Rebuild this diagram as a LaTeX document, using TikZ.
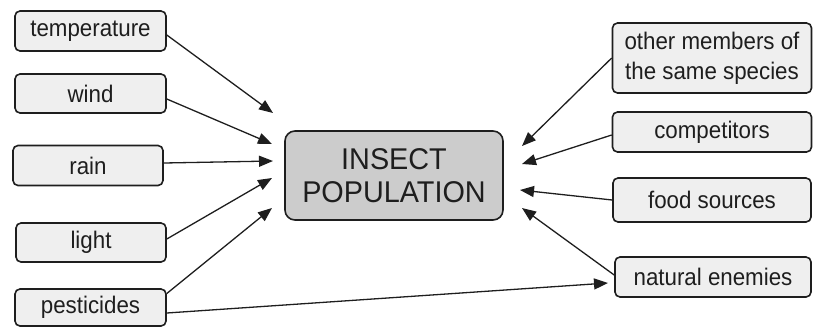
\documentclass[tikz,border=0pt]{standalone}
\usepackage{fontspec}
\setmainfont{Liberation Sans}
\newfontfamily\labfont{Liberation Sans}[FakeStretch=0.93]
\newfontfamily\hubfont{Liberation Sans}[FakeStretch=0.96]
\usetikzlibrary{arrows.meta}
\definecolor{boxfill}{HTML}{EFEFEF}
\definecolor{centerfill}{HTML}{CCCCCC}
\definecolor{ink}{HTML}{1E1E1E}
\tikzset{
  factor/.style={draw=ink, line width=1.6pt, rounded corners=5pt, fill=boxfill,
    text=ink, font=\labfont\fontsize{24}{30}\selectfont, align=center, inner sep=0pt},
  hub/.style={draw=ink, line width=1.6pt, rounded corners=10pt, fill=centerfill,
    text=ink, font=\hubfont\fontsize{30}{33}\selectfont, align=center, inner sep=0pt,
    minimum width=218pt, minimum height=89pt},
  link/.style={draw=ink, line width=1.3pt, -{Triangle[length=14pt,width=11pt]}}
}
\begin{document}
\begin{tikzpicture}[x=1pt,y=-1pt]
\useasboundingbox (0,0) rectangle (813,327);
% left factors
\node[factor, minimum width=151pt, minimum height=40pt] (temp) at (90.5,31) {temperature};
\node[factor, minimum width=151pt, minimum height=39pt] (wind) at (90.5,93.5) {wind};
\node[factor, minimum width=150pt, minimum height=40pt] (rain) at (88,165.5) {rain};
\node[factor, minimum width=150pt, minimum height=39pt] (light) at (91,242.5) {light};
\node[factor, minimum width=151pt, minimum height=37pt] (pest) at (90.5,307.5) {pesticides};
% center
\node[hub] (insect) at (394,175.5) {INSECT\\POPULATION};
% right factors
\node[factor, minimum width=199pt, minimum height=70pt] (other) at (712,58) {other members of\\the same species};
\node[factor, minimum width=199pt, minimum height=40pt] (comp) at (712,132) {competitors};
\node[factor, minimum width=198pt, minimum height=44pt] (food) at (712,200) {food sources};
\node[factor, minimum width=196pt, minimum height=40pt] (enemies) at (713,277) {natural enemies};
% arrow tips
\coordinate (t1) at (273,113);
\coordinate (t2) at (272,144);
\coordinate (t3) at (273,161);
\coordinate (t4) at (272,178);
\coordinate (t5) at (272,208);
\coordinate (r1) at (522,146);
\coordinate (r2) at (522,164);
\coordinate (r3) at (520,190);
\coordinate (r4) at (522,208);
\coordinate (e1) at (608,283);
% connectors
\draw[link] ([yshift=-4pt]temp.east) -- (t1);
\draw[link] ([yshift=-5.5pt]wind.east) -- (t2);
\draw[link] ([yshift=2.5pt]rain.east) -- (t3);
\draw[link] ([yshift=3.5pt]light.east) -- (t4);
\draw[link] ([yshift=14pt]pest.east) -- (t5);
\draw[link] ([yshift=-5.5pt]pest.east) -- (e1);
\draw[link] (other.west) -- (r1);
\draw[link] ([yshift=-3pt]comp.west) -- (r2);
\draw[link] (food.west) -- (r3);
\draw[link] ([yshift=2pt]enemies.west) -- (r4);
\end{tikzpicture}
\end{document}
